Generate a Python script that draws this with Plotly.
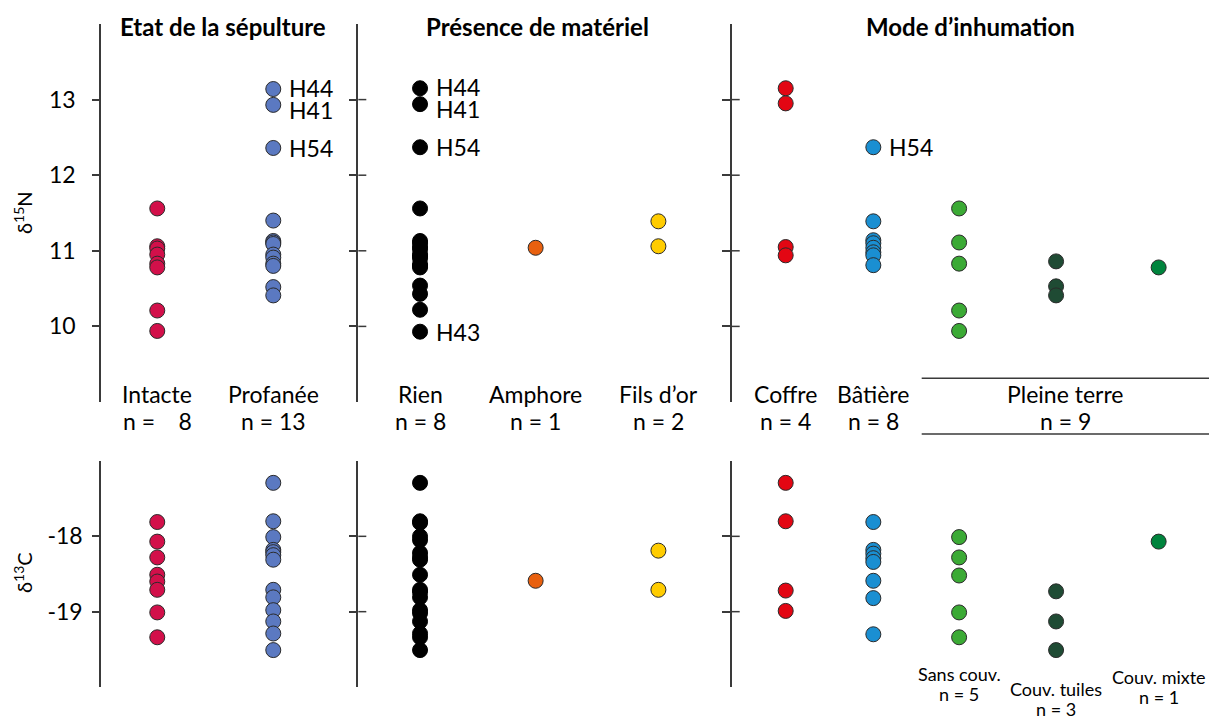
import plotly.graph_objects as go

# ---------------- data ----------------
# Etat de la sépulture
etat_cats = ["Intacte", "Profanée"]
etat_n = ["n =\u00a0\u00a0\u00a0 8", "n = 13"]
intacte_N = [11.56, 11.06, 11.03, 10.95, 10.83, 10.78, 10.21, 9.94]
intacte_C = [-17.81, -18.07, -18.28, -18.51, -18.60, -18.71, -19.01, -19.34]
profanee_N = [13.14, 12.93, 12.36, 11.40, 11.13, 11.11, 11.09, 10.95, 10.91, 10.83, 10.80, 10.52, 10.41]
profanee_C = [-17.29, -17.80, -18.01, -18.18, -18.21, -18.25, -18.31, -18.71, -18.81, -18.98, -19.13, -19.29, -19.51]

# Présence de matériel
mat_cats = ["Rien", "Amphore", "Fils d’or"]
mat_n = ["n = 8", "n = 1", "n = 2"]
rien_N = [13.15, 12.94, 12.37, 11.56, 11.13, 11.10, 11.05, 11.02, 10.95, 10.93, 10.90,
          10.82, 10.80, 10.78, 10.54, 10.43, 10.22, 9.93]
rien_C = [-17.29, -17.80, -17.82, -18.00, -18.05, -18.22, -18.28, -18.31, -18.51, -18.71,
          -18.74, -18.81, -18.98, -19.02, -19.13, -19.29, -19.34, -19.51]
amphore_N = [11.04]
amphore_C = [-18.59]
filsor_N = [11.39, 11.06]
filsor_C = [-18.19, -18.71]

# Mode d'inhumation
mode_cats = ["Coffre", "Bâtière", "Sans couv.", "Couv. tuiles", "Couv. mixte"]
mode_n = ["n = 4", "n = 8", "n = 5", "n = 3", "n = 1"]
coffre_N = [13.15, 12.95, 11.05, 10.94]
coffre_C = [-17.29, -17.80, -18.72, -18.99]
batiere_N = [12.37, 11.39, 11.14, 11.10, 11.04, 10.98, 10.94, 10.81]
batiere_C = [-17.81, -18.18, -18.23, -18.29, -18.34, -18.59, -18.82, -19.30]
sans_N = [11.56, 11.11, 10.83, 10.21, 9.94]
sans_C = [-18.01, -18.28, -18.52, -19.01, -19.34]
tuiles_N = [10.86, 10.53, 10.41]
tuiles_C = [-18.73, -19.13, -19.51]
mixte_N = [10.78]
mixte_C = [-18.07]

N_ticks = [10, 11, 12, 13]
C_ticks = [-18, -19]

# ---------------- layout constants ----------------
W, H = 1209, 718
FONT = "Lato"
col_dom = [(101 / W, 358.3 / W), (358.3 / W, 731.7 / W), (731.7 / W, 1.0)]
col_range = [(-0.485, 1.733), (-0.518, 2.615), (-0.579, 4.54)]
slots = [[0, 1], [0, 0.97, 2.0], [0, 0.94, 1.86, 2.90, 4.0]]
top_dom = (1 - 402 / H, 1 - 24 / H)
bot_dom = (1 - 687 / H, 1 - 461 / H)
AX = "#3a3a3a"

groups = [
    [(intacte_N, intacte_C, "#D2104A"), (profanee_N, profanee_C, "#5B79C1")],
    [(rien_N, rien_C, "#000000"), (amphore_N, amphore_C, "#E8600F"), (filsor_N, filsor_C, "#FFCC00")],
    [(coffre_N, coffre_C, "#E30613"), (batiere_N, batiere_C, "#1A8FD2"), (sans_N, sans_C, "#3BAA35"),
     (tuiles_N, tuiles_C, "#1F4B34"), (mixte_N, mixte_C, "#00843D")],
]


def ax_suffix(i):
    return "" if i == 0 else str(i + 1)


fig = go.Figure()
for c, grp in enumerate(groups):
    for k, (vN, vC, col) in enumerate(grp):
        line_col = "#000000" if col == "#000000" else "#2b2b2b"
        mk = dict(size=15, color=col, line=dict(color=line_col, width=1))
        fig.add_trace(go.Scatter(x=[slots[c][k]] * len(vN), y=vN, mode="markers", marker=mk,
                                 xaxis="x" + ax_suffix(c), yaxis="y" + ax_suffix(c),
                                 showlegend=False, hoverinfo="y"))
        fig.add_trace(go.Scatter(x=[slots[c][k]] * len(vC), y=vC, mode="markers", marker=mk,
                                 xaxis="x" + ax_suffix(c + 3), yaxis="y" + ax_suffix(c + 3),
                                 showlegend=False, hoverinfo="y"))

layout = dict(width=W, height=H, margin=dict(l=0, r=0, t=0, b=0),
              paper_bgcolor="white", plot_bgcolor="white",
              font=dict(family=FONT, size=22, color="#000000"), showlegend=False)

for i in range(6):
    c = i % 3
    top = i < 3
    s = ax_suffix(i)
    tv = N_ticks if top else C_ticks
    layout["xaxis" + s] = dict(domain=list(col_dom[c]), range=list(col_range[c]), visible=False,
                               anchor="y" + s, fixedrange=True)
    layout["yaxis" + s] = dict(domain=list(top_dom if top else bot_dom),
                               range=[9, 14] if top else [-20, -17],
                               anchor="x" + s,
                               showline=True, linecolor=AX, linewidth=1.5,
                               showgrid=False, zeroline=False,
                               tickmode="array", tickvals=tv,
                               ticktext=[str(v) for v in tv],
                               ticks="outside", ticklen=7 if c == 0 else 8, tickwidth=1.5, tickcolor=AX,
                               showticklabels=(c == 0),
                               ticklabelstandoff=12 if top else 5,
                               tickfont=dict(family=FONT, size=23, color="#000000"),
                               fixedrange=True)
fig.update_layout(**layout)

# inside halves of the crossing ticks for panels 2 and 3
for i in range(6):
    c = i % 3
    if c == 0:
        continue
    top = i < 3
    for t in (N_ticks if top else C_ticks):
        fig.add_shape(type="line", xref="paper", xsizemode="pixel", xanchor=col_dom[c][0],
                      x0=0, x1=8, yref="y" + ax_suffix(i), y0=t, y1=t,
                      line=dict(color=AX, width=1.5))


def txt(text, xv, xref, ypix, size, bold=False):
    fig.add_annotation(text=f"<b>{text}</b>" if bold else text, x=xv, xref=xref,
                       y=1 - ypix / H, yref="paper", showarrow=False,
                       xanchor="center", yanchor="middle",
                       font=dict(family=FONT, size=size, color="#000000"))


# group titles
for t, px in [("Etat de la sépulture", 223), ("Présence de matériel", 537), ("Mode d’inhumation", 970)]:
    txt(t, px / W, "paper", 26, 24, bold=True)

# category labels under the top panels
cat_sets = [(etat_cats, etat_n), (mat_cats, mat_n), (mode_cats[:2], mode_n[:2])]
for c, (cats, ns) in enumerate(cat_sets):
    for k, (cat, nn) in enumerate(zip(cats, ns)):
        txt(cat, slots[c][k], "x" + ax_suffix(c), 394, 23)
        txt(nn, slots[c][k], "x" + ax_suffix(c), 421, 23)

# Pleine terre group label with lines
txt("Pleine terre", 1065 / W, "paper", 394, 23)
txt(f"n = {len(sans_N) + len(tuiles_N) + len(mixte_N)}", 1065 / W, "paper", 421, 23)
for py in (378.3, 434):
    fig.add_shape(type="line", xref="paper", yref="paper", x0=921.7 / W, x1=1.0,
                  y0=1 - py / H, y1=1 - py / H, line=dict(color=AX, width=1.5))

# sub-category labels (bottom right)
for k, y1 in [(2, 674), (3, 689), (4, 677)]:
    txt(mode_cats[k], slots[2][k], "x3", y1, 18)
    txt(mode_n[k], slots[2][k], "x3", y1 + 20, 18)

# individual labels
point_labels = [
    (0, 1, profanee_N, [("H44", 0, 1), ("H41", 1, -5), ("H54", 2, 0)]),
    (1, 0, rien_N, [("H44", 0, 1), ("H41", 1, -5), ("H54", 2, 0), ("H43", 17, 0)]),
    (2, 1, batiere_N, [("H54", 0, 0)]),
]
for c, k, vals, labs in point_labels:
    for t, idx, ys in labs:
        fig.add_annotation(text=t, x=slots[c][k], y=vals[idx],
                           xref="x" + ax_suffix(c), yref="y" + ax_suffix(c),
                           showarrow=False, xanchor="left", yanchor="middle",
                           xshift=14, yshift=ys, font=dict(family=FONT, size=23, color="#000000"))

# y-axis titles
for t, py in [("δ<sup>15</sup>N", 213), ("δ<sup>13</sup>C", 573)]:
    fig.add_annotation(text=t, x=23 / W, y=1 - py / H, xref="paper", yref="paper",
                       showarrow=False, textangle=-90, xanchor="center", yanchor="middle",
                       font=dict(family=FONT, size=20, color="#000000"))

fig.write_html("out.html", config={"displayModeBar": False})

with open("out.html", encoding="utf-8") as f:
    html = f.read()
html = html.replace("<body>", '<body style="margin:0;overflow:hidden">', 1)
with open("out.html", "w", encoding="utf-8") as f:
    f.write(html)
